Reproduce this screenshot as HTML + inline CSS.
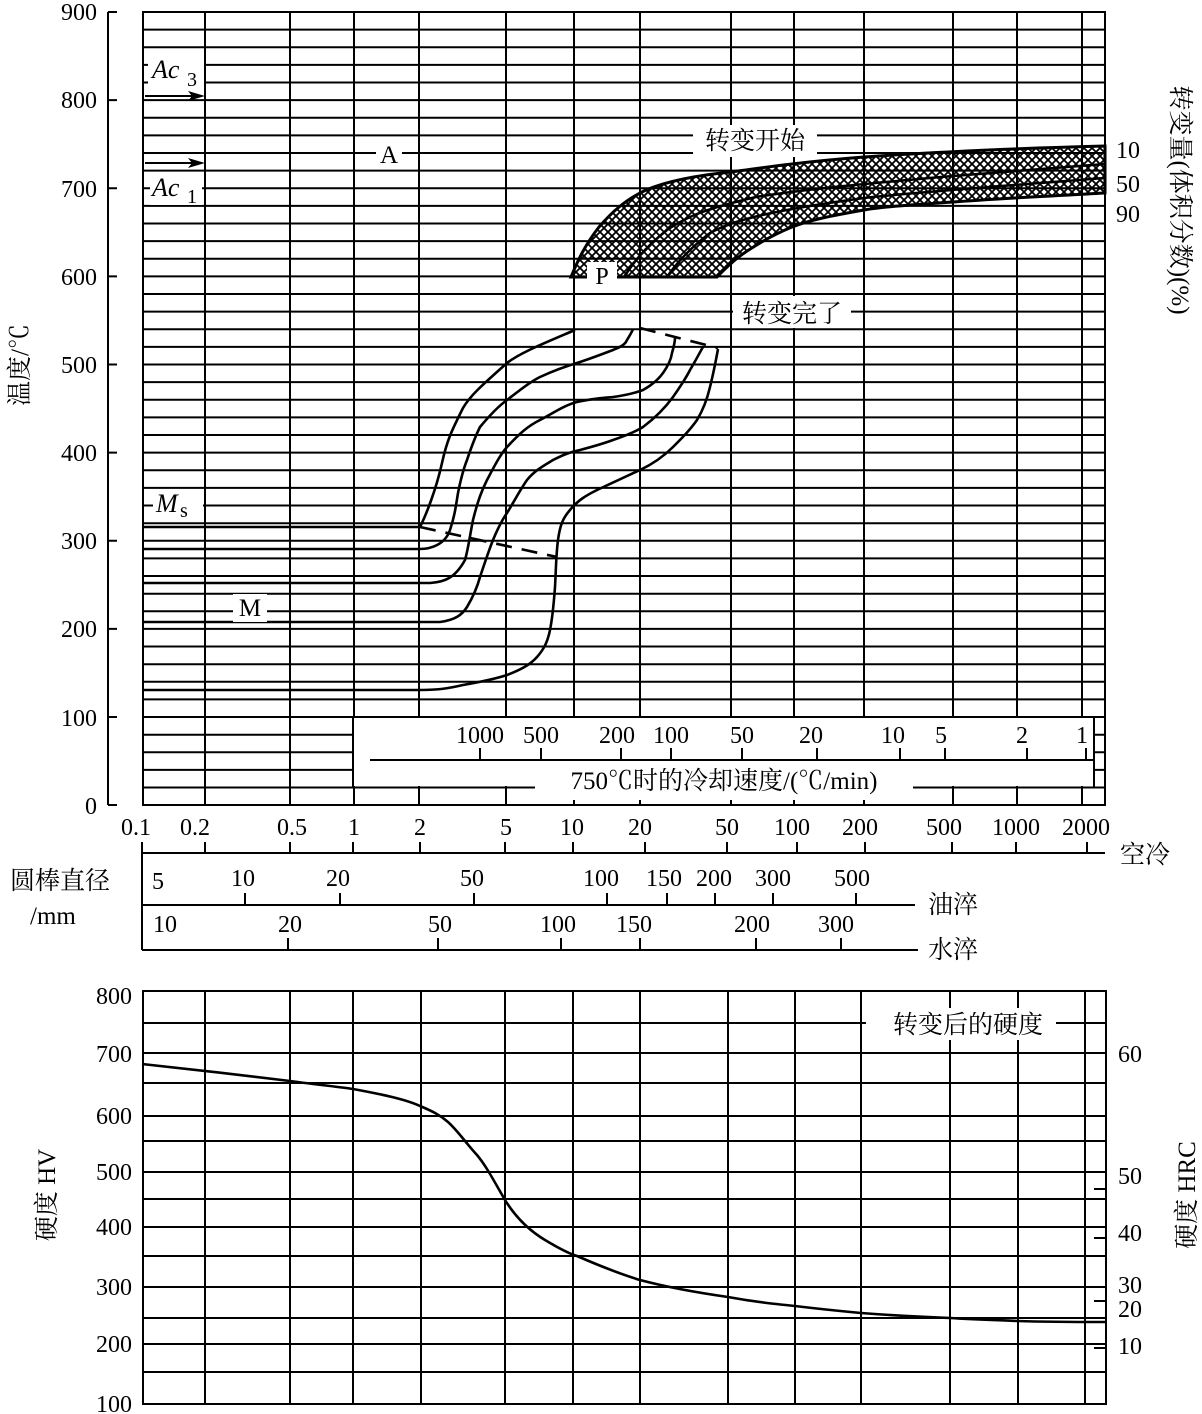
<!DOCTYPE html>
<html><head><meta charset="utf-8"><style>
html,body{margin:0;padding:0;background:#fff;}
svg{display:block;}
text{font-family:"Liberation Serif","Noto Serif CJK SC",serif;fill:#000;}
.n{font-size:24px;}
.c{font-size:25px;}
</style></head><body>
<svg width="1202" height="1414" viewBox="0 0 1202 1414" xmlns="http://www.w3.org/2000/svg">
<defs>
<pattern id="h" patternUnits="userSpaceOnUse" width="8" height="8">
<path d="M0,0 L8,8 M8,0 L0,8" stroke="#000" stroke-width="1.8"/>
</pattern>
</defs>
<g stroke="#000" stroke-width="2" fill="none">
<path d="M143,29.6H1105M143,47.2H1105M143,64.9H1105M143,82.5H1105M143,100.1H1105M143,117.7H1105M143,135.4H1105M143,153H1105M143,170.6H1105M143,188.3H1105M143,205.9H1105M143,223.5H1105M143,241.1H1105M143,258.8H1105M143,276.4H1105M143,294H1105M143,311.6H1105M143,329.3H1105M143,346.9H1105M143,364.5H1105M143,382.1H1105M143,399.8H1105M143,417.4H1105M143,435H1105M143,452.6H1105M143,470.3H1105M143,487.9H1105M143,505.5H1105M143,523.2H1105M143,540.8H1105M143,558.4H1105M143,576H1105M143,593.7H1105M143,611.3H1105M143,628.9H1105M143,646.5H1105M143,664.2H1105M143,681.8H1105M143,699.4H1105M143,717H1105M143,734.7H1105M143,752.3H1105M143,769.9H1105M143,787.5H1105"/>
<path d="M205,12V805M290,12V805M354,12V805M419,12V805M506,12V805M574,12V805M640,12V805M731,12V805M794,12V805M864,12V805M953,12V805M1017,12V805M1082,12V805"/>
<rect x="143" y="12" width="962" height="793"/>
<path d="M108,12V805M108,12H117M108,100.1H117M108,188.3H117M108,276.4H117M108,364.5H117M108,452.6H117M108,540.8H117M108,628.9H117M108,717H117M108,805H117"/>
</g>
<rect x="353" y="718" width="740" height="68" fill="#fff"/>
<g stroke="#000" stroke-width="2" fill="none">
<path d="M353,717V787M1094,717V787M370,760H1094"/>
<path d="M480,748V760M541,748V760M621,748V760M671,748V760M742,748V760M817,748V760M900,748V760M945,748V760M1027,748V760M1086,748V760"/>
</g>
<g class="n">
<text x="480" y="743" text-anchor="middle">1000</text><text x="541" y="743" text-anchor="middle">500</text>
<text x="617" y="743" text-anchor="middle">200</text><text x="671" y="743" text-anchor="middle">100</text>
<text x="742" y="743" text-anchor="middle">50</text><text x="811" y="743" text-anchor="middle">20</text>
<text x="893" y="743" text-anchor="middle">10</text><text x="941" y="743" text-anchor="middle">5</text>
<text x="1022" y="743" text-anchor="middle">2</text><text x="1082" y="743" text-anchor="middle">1</text>
</g>
<rect x="535" y="770" width="378" height="30" fill="#fff"/>
<text x="724" y="789" text-anchor="middle" class="c">750℃时的冷却速度/(℃/min)</text>

<path d="M571,277 C578,260 585,245 599,227 C612,212 625,200 646,190 C665,182 690,176 731,172 C760,168 800,162 864,157 C920,153 990,149 1105,146 L1105,193 C1050,196 990,199 953,202 C910,205 880,207 864,210 C830,216 810,220 792,227 C775,234 765,240 760,243 C745,252 735,258 717,277 Z" fill="url(#h)" stroke="#000" stroke-width="3"/>
<g stroke="#000" stroke-width="2.5" fill="none">
<path d="M624,277 C632,265 642,250 667,230 C685,218 700,210 756,197 C800,190 850,185 953,176 C1000,172 1050,168 1105,164"/>
<path d="M667,277 C675,265 690,248 710,233 C730,222 760,212 864,198 C900,194 1000,186 1105,178"/>
</g>
<rect x="587" y="262" width="30" height="28" fill="#fff"/>
<text x="602" y="284" text-anchor="middle" class="n">P</text>

<g stroke="#000" stroke-width="2.6" fill="none">
<path d="M143,527H420 C426,515 436,490 442,463 C447,440 452,430 463,408 C470,396 480,387 507,363 C520,353 540,345 575,330"/>
<path d="M143,549H420 C430,549 445,545 450,530 C455,515 456,505 458,493 C461,478 465,465 467,460 C472,445 476,435 480,427 C490,415 500,405 507,400 C520,390 530,382 540,377 C555,370 570,365 580,362 C595,357 605,353 613,350 C620,347 625,345 627,340 C630,335 632,332 633,329"/>
<path d="M143,583H430 C445,582 455,578 465,560 C468,550 470,535 473,520 C478,500 482,490 487,480 C495,465 500,455 507,447 C520,433 528,426 540,420 C555,412 565,405 577,402 C595,398 603,398 613,397 C628,395 635,393 643,390 C652,385 658,380 663,373 C668,366 671,360 672,353 C674,346 675,342 675,338"/>
<path d="M143,622H440 C455,620 462,615 467,607 C473,597 477,588 480,577 C485,562 489,550 493,540 C498,528 502,520 507,513 C515,500 520,490 527,480 C535,470 545,465 553,460 C563,455 570,452 580,450 C595,446 605,443 613,440 C625,436 635,432 643,427 C655,418 665,408 673,397 C680,387 686,378 690,370 C696,360 700,352 703,347"/>
<path d="M143,690H420 C440,690 450,688 463,685 C480,682 495,679 507,675 C520,670 530,665 537,657 C545,648 548,640 550,630 C553,615 554,600 555,587 C556,570 556,555 558,540 C560,525 563,518 570,510 C578,500 587,495 597,490 C610,484 625,477 640,470 C655,463 665,455 673,447 C682,438 690,430 697,420 C703,410 707,400 710,387 C713,375 716,360 718,349"/>
</g>
<g stroke="#000" stroke-width="2.6" fill="none" stroke-dasharray="16,10">
<path d="M420,527 L557,557"/>
<path d="M640,328 L675,337 L718,348"/>
</g>

<rect x="148" y="52" width="56" height="40" fill="#fff"/>
<text x="152" y="78" font-size="26" font-style="italic">Ac</text><text x="187" y="86" font-size="20">3</text>
<path d="M145,96H195" stroke="#000" stroke-width="2"/><path d="M205,96 L188,91 L192,96 L188,101 Z" fill="#000"/>
<path d="M145,163H195" stroke="#000" stroke-width="2"/><path d="M205,163 L188,158 L192,163 L188,168 Z" fill="#000"/>
<rect x="150" y="173" width="52" height="32" fill="#fff"/>
<text x="152" y="196" font-size="26" font-style="italic">Ac</text><text x="187" y="203" font-size="20">1</text>
<rect x="376" y="140" width="26" height="28" fill="#fff"/>
<text x="389" y="163" text-anchor="middle" font-size="25">A</text>
<rect x="153" y="490" width="50" height="30" fill="#fff"/>
<text x="156" y="512" font-size="26" font-style="italic">M</text><text x="180" y="517" font-size="20">s</text>
<rect x="233" y="594" width="34" height="28" fill="#fff"/>
<text x="250" y="616" text-anchor="middle" font-size="25">M</text>
<rect x="693" y="125" width="124" height="32" fill="#fff"/>
<text x="755" y="149" text-anchor="middle" class="c">转变开始</text>
<rect x="733" y="296" width="118" height="32" fill="#fff"/>
<text x="792" y="322" text-anchor="middle" class="c">转变完了</text>
<g class="n">
<text x="1116" y="158">10</text><text x="1116" y="192">50</text><text x="1116" y="222">90</text>
</g>
<text transform="translate(1172,200) rotate(90)" text-anchor="middle" class="c">转变量(体积分数)(%)</text>
<text transform="translate(28,365) rotate(-90)" text-anchor="middle" class="c">温度/℃</text>
<g class="n" text-anchor="end">
<text x="97" y="20">900</text><text x="97" y="108">800</text><text x="97" y="197">700</text><text x="97" y="285">600</text>
<text x="97" y="373">500</text><text x="97" y="461">400</text><text x="97" y="549">300</text><text x="97" y="637">200</text>
<text x="97" y="726">100</text><text x="97" y="814">0</text>
</g>

<g class="n" text-anchor="middle">
<text x="136" y="835">0.1</text><text x="195" y="835">0.2</text><text x="292" y="835">0.5</text><text x="354" y="835">1</text>
<text x="420" y="835">2</text><text x="506" y="835">5</text><text x="572" y="835">10</text><text x="640" y="835">20</text>
<text x="727" y="835">50</text><text x="792" y="835">100</text><text x="860" y="835">200</text><text x="944" y="835">500</text>
<text x="1016" y="835">1000</text><text x="1086" y="835">2000</text>
</g>
<g stroke="#000" stroke-width="2" fill="none">
<path d="M142,842V950M142,853H1105M142,905H915M142,950H918"/>
<path d="M205,842V853M290,842V853M353,842V853M420,842V853M505,842V853M573,842V853M645,842V853M727,842V853M797,842V853M865,842V853M952,842V853M1016,842V853M1087,842V853"/>
<path d="M245,893V905M340,893V905M474,893V905M607,893V905M667,893V905M715,893V905M773,893V905M856,893V905"/>
<path d="M288,938V950M438,938V950M561,938V950M640,938V950M756,938V950M841,938V950"/>
</g>
<g class="n" text-anchor="middle">
<text x="158" y="889">5</text><text x="243" y="886">10</text><text x="338" y="886">20</text><text x="472" y="886">50</text>
<text x="601" y="886">100</text><text x="664" y="886">150</text><text x="714" y="886">200</text><text x="773" y="886">300</text><text x="852" y="886">500</text>
<text x="165" y="932">10</text><text x="290" y="932">20</text><text x="440" y="932">50</text><text x="558" y="932">100</text>
<text x="634" y="932">150</text><text x="752" y="932">200</text><text x="836" y="932">300</text>
</g>
<text x="1120" y="863" class="c">空冷</text>
<text x="928" y="913" class="c">油淬</text>
<text x="928" y="958" class="c">水淬</text>
<text x="10" y="889" class="c">圆棒直径</text>
<text x="30" y="924" class="c">/mm</text>

<g stroke="#000" stroke-width="2" fill="none">
<path d="M143,1023H1106M143,1053H1106M143,1083H1106M143,1116H1106M143,1141H1106M143,1172H1106M143,1199H1106M143,1227H1106M143,1256H1106M143,1287H1106M143,1318H1106M143,1344H1106M143,1372H1106"/>
<path d="M205,991V1404M290,991V1404M353,991V1404M421,991V1404M505,991V1404M573,991V1404M640,991V1404M728,991V1404M795,991V1404M861,991V1404M950,991V1404M1018,991V1404M1085,991V1404"/>
<rect x="143" y="991" width="963" height="413"/>
<path d="M1094,1189H1106M1094,1238H1106M1094,1301H1106M1094,1348H1106"/>
</g>
<path d="M142,1064 C180,1068 250,1076 290,1081 C320,1085 340,1087 353,1089 C380,1094 405,1099 420,1106 C432,1111 440,1115 448,1122 C458,1131 465,1142 477,1155 C487,1167 495,1183 505,1200 C513,1213 525,1228 545,1240 C560,1249 570,1254 577,1256 C600,1266 620,1274 640,1280 C670,1288 700,1293 728,1297 C755,1302 775,1304 795,1306 C820,1309 840,1311 861,1313 C900,1316 925,1317 950,1318 C980,1320 1000,1320 1017,1321 C1050,1322 1080,1322 1105,1322" stroke="#000" stroke-width="2.6" fill="none"/>
<rect x="866" y="1008" width="190" height="32" fill="#fff"/>
<text x="968" y="1033" text-anchor="middle" class="c">转变后的硬度</text>
<g class="n" text-anchor="end">
<text x="132" y="1004">800</text><text x="132" y="1062">700</text><text x="132" y="1124">600</text><text x="132" y="1180">500</text>
<text x="132" y="1235">400</text><text x="132" y="1295">300</text><text x="132" y="1352">200</text><text x="132" y="1412">100</text>
</g>
<g class="n">
<text x="1118" y="1062">60</text><text x="1118" y="1184">50</text><text x="1118" y="1241">40</text>
<text x="1118" y="1293">30</text><text x="1118" y="1317">20</text><text x="1118" y="1354">10</text>
</g>
<text transform="translate(55,1195) rotate(-90)" text-anchor="middle" class="c">硬度  HV</text>
<text transform="translate(1195,1195) rotate(-90)" text-anchor="middle" class="c">硬度  HRC</text>
</svg>
</body></html>
